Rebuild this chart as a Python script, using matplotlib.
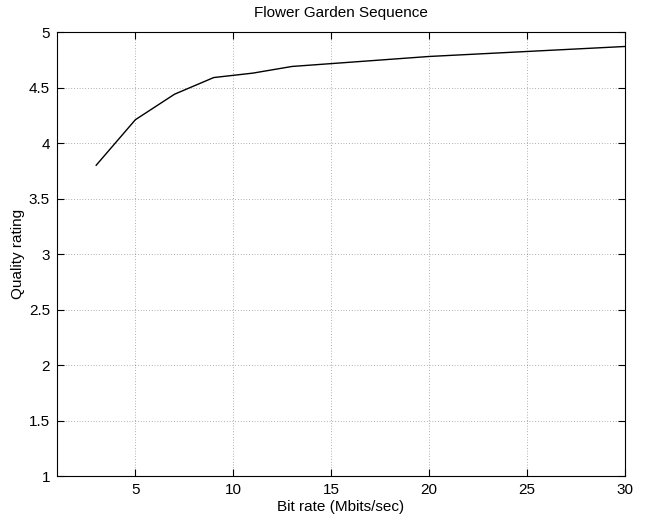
import matplotlib
matplotlib.use("Agg")
import matplotlib.pyplot as plt
import matplotlib.ticker as mticker

# Quality rating vs bit rate for the Flower Garden sequence
BIT_RATE = [3, 5, 7, 9, 11, 13, 20, 30]
QUALITY = [3.80, 4.21, 4.44, 4.59, 4.63, 4.69, 4.78, 4.87]
X_TICKS = [5, 10, 15, 20, 25, 30]
Y_TICKS = [1, 1.5, 2, 2.5, 3, 3.5, 4, 4.5, 5]

plt.rcParams["font.family"] = ["Liberation Sans", "DejaVu Sans"]

fig = plt.figure(figsize=(6.45, 5.17), dpi=100)
ax = fig.add_axes([0.0884, 0.0793, 0.8806, 0.8587])

ax.plot(BIT_RATE, QUALITY, color="black", linewidth=1.0)

ax.set_xlim(1, 30)
ax.set_ylim(1, 5)
ax.set_xticks(X_TICKS)
ax.set_yticks(Y_TICKS)
ax.yaxis.set_major_formatter(mticker.FuncFormatter(lambda v, _: f"{v:g}"))
ax.tick_params(direction="in", length=5, width=0.8, top=True, right=True,
               labelsize=11, pad=5)

ax.grid(True, color="black", linestyle=(0, (1, 3)), linewidth=0.5, alpha=0.6)
for s in ax.spines.values():
    s.set_linewidth(0.8)

ax.set_title("Flower Garden Sequence", fontsize=11, pad=11)
ax.set_xlabel("Bit rate (Mbits/sec)", fontsize=11, labelpad=2)
ax.set_ylabel("Quality rating", fontsize=11, labelpad=3)

fig.savefig("out.png", dpi=100, facecolor="white")
